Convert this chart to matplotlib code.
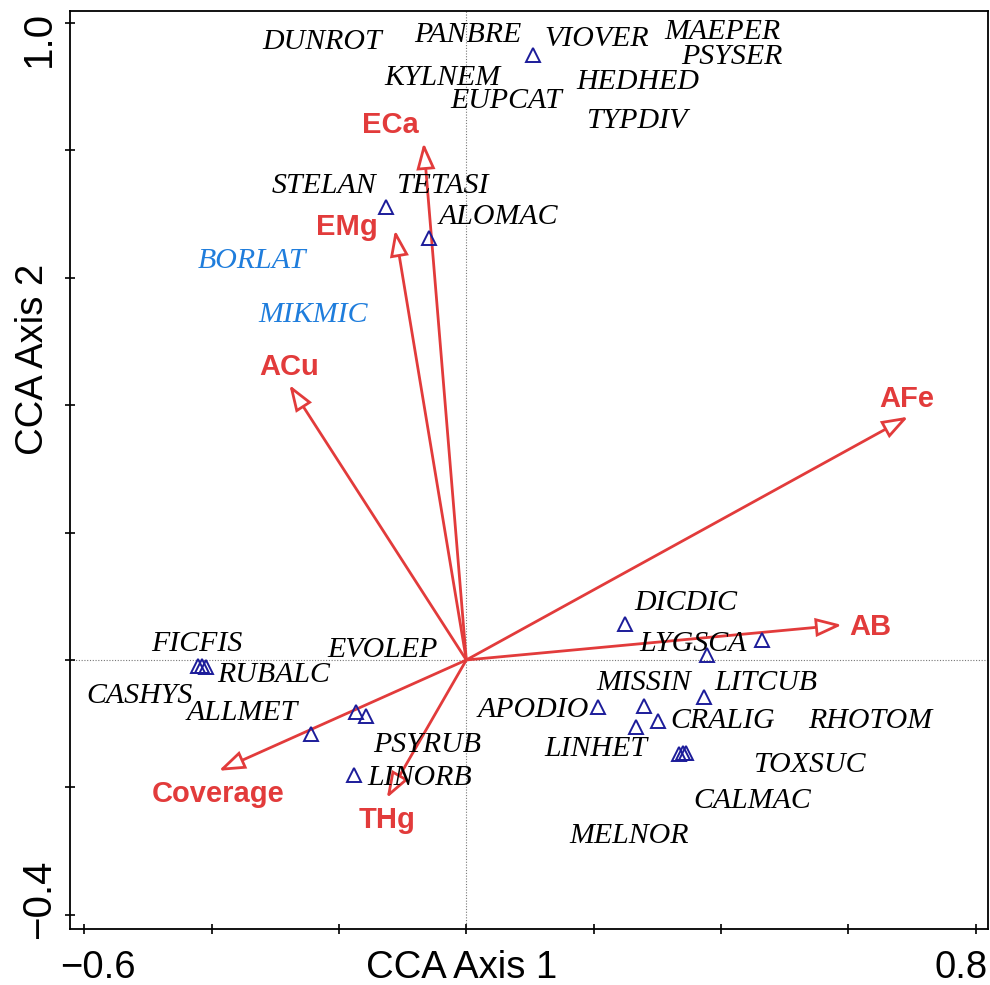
import numpy as np
import matplotlib
matplotlib.use("Agg")
import matplotlib.pyplot as plt
from matplotlib.patches import FancyArrowPatch, ArrowStyle

RED = "#e23b3b"
NAVY = "#1c1c9a"
BLUE = "#1f7ddc"
PX = 990.0
PY = 985.0

# species scores (open triangles)
tri_x = [0.105, -0.126, -0.059, -0.421, -0.415, -0.409, -0.173, -0.158, -0.244, -0.176,
         0.249, 0.464, 0.378, 0.207, 0.279, 0.301, 0.266, 0.373, 0.334, 0.340, 0.345]
tri_y = [0.950, 0.711, 0.663, -0.009, -0.009, -0.011, -0.082, -0.088, -0.116, -0.181,
         0.057, 0.031, 0.008, -0.074, -0.072, -0.096, -0.105, -0.058, -0.148, -0.146, -0.146]

# species labels
sp_names = ["DUNROT", "PANBRE", "VIOVER", "MAEPER", "PSYSER", "KYLNEM", "HEDHED", "EUPCAT",
            "TYPDIV", "STELAN", "TETASI", "ALOMAC", "BORLAT", "MIKMIC",
            "FICFIS", "EVOLEP", "RUBALC", "CASHYS", "ALLMET", "PSYRUB", "LINORB",
            "DICDIC", "LYGSCA", "MISSIN", "LITCUB", "APODIO", "CRALIG", "RHOTOM",
            "LINHET", "TOXSUC", "CALMAC", "MELNOR"]
sp_x = [-0.227, 0.003, 0.205, 0.402, 0.417, -0.037, 0.270, 0.062,
        0.267, -0.224, -0.038, 0.050, -0.337, -0.241,
        -0.423, -0.131, -0.302, -0.513, -0.352, -0.062, -0.074,
        0.344, 0.356, 0.278, 0.471, 0.105, 0.403, 0.634,
        0.204, 0.538, 0.449, 0.256]
sp_y = [0.960, 0.971, 0.964, 0.975, 0.936, 0.903, 0.897, 0.867,
        0.835, 0.733, 0.733, 0.685, 0.616, 0.531,
        0.014, 0.005, -0.035, -0.068, -0.094, -0.145, -0.196,
        0.079, 0.014, -0.047, -0.047, -0.090, -0.107, -0.107,
        -0.151, -0.176, -0.232, -0.287]
sp_blue = ["BORLAT", "MIKMIC"]

# environmental vectors
env_names = ["ECa", "EMg", "ACu", "AFe", "AB", "Coverage", "THg"]
env_x = [-0.067, -0.112, -0.278, 0.694, 0.590, -0.389, -0.125]
env_y = [0.812, 0.675, 0.432, 0.382, 0.055, -0.174, -0.217]
env_lab_x = [-0.119, -0.188, -0.279, 0.692, 0.634, -0.389, -0.125]
env_lab_y = [0.828, 0.667, 0.448, 0.397, 0.039, -0.223, -0.264]

fig = plt.figure(figsize=(PX / 100, PY / 100), dpi=100)
ax = fig.add_axes([70 / PX, 1 - 929 / PY, 918 / PX, 918 / PY])
ax.set_xlim(-0.6224, 0.8193)
ax.set_ylim(-0.4224, 1.019)

ax.axhline(0, color="#777777", lw=0.8, ls=(0, (1, 1.5)), zorder=1)
ax.axvline(0, color="#777777", lw=0.8, ls=(0, (1, 1.5)), zorder=1)

for x, y in zip(env_x, env_y):
    ar = FancyArrowPatch((0, 0), (x, y),
                         arrowstyle=ArrowStyle("-|>", head_length=15.5, head_width=5.5),
                         mutation_scale=1, shrinkA=0, shrinkB=0, lw=2.0,
                         ec=RED, fc="white", zorder=3, joinstyle="miter")
    ax.add_patch(ar)

ax.plot(tri_x, tri_y, ls="", marker="^", ms=10, mfc="none", mec=NAVY, mew=1.4, zorder=4)

for n, x, y in zip(sp_names, sp_x, sp_y):
    ax.text(x, y, n, ha="center", va="baseline", style="italic",
            family="Liberation Serif", fontsize=21.5,
            color=BLUE if n in sp_blue else "black", zorder=5)

for n, x, y in zip(env_names, env_lab_x, env_lab_y):
    ax.text(x, y, n, ha="center", va="baseline", fontweight="bold",
            family="Liberation Sans", fontsize=21, color=RED, zorder=5)

ax.set_xticks(np.arange(-0.6, 0.81, 0.2))
ax.set_yticks(np.arange(-0.4, 1.01, 0.2))
ax.set_xticklabels([])
ax.set_yticklabels([])
ax.tick_params(direction="inout", length=7, width=1.2)
for s in ax.spines.values():
    s.set_linewidth(1.3)

tk = dict(family="Liberation Sans", fontsize=27.5)
fig.text(97.5 / PX, 1 - 978 / PY, "\u22120.6", ha="center", va="baseline", **tk)
fig.text(961 / PX, 1 - 978 / PY, "0.8", ha="center", va="baseline", **tk)
fig.text(462 / PX, 1 - 978 / PY, "CCA Axis 1", ha="center", va="baseline", **tk)
fig.text(50 / PX, 1 - 39 / PY, "1.0", ha="center", va="baseline", rotation=90,
         rotation_mode="anchor", family="Liberation Sans", fontsize=29)
fig.text(50 / PX, 1 - 899 / PY, "\u22120.4", ha="center", va="baseline", rotation=90,
         rotation_mode="anchor", family="Liberation Sans", fontsize=29)
fig.text(43 / PX, 1 - 359 / PY, "CCA Axis 2", ha="center", va="baseline", rotation=90,
         rotation_mode="anchor", **tk)

fig.savefig("out.png", dpi=100)
